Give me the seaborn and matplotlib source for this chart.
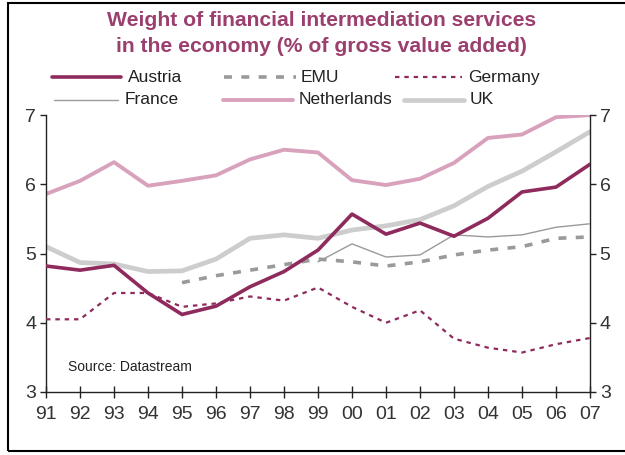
import matplotlib
matplotlib.use("Agg")
import matplotlib.pyplot as plt
import seaborn as sns
import numpy as np
import pandas as pd
from matplotlib.lines import Line2D
from matplotlib.patches import Rectangle

years = list(range(1991, 2008))
tick_labels = ["91", "92", "93", "94", "95", "96", "97", "98", "99",
               "00", "01", "02", "03", "04", "05", "06", "07"]

nan = np.nan
austria = [4.82, 4.76, 4.83, 4.43, 4.12, 4.24, 4.52, 4.74, 5.05,
           5.57, 5.28, 5.44, 5.25, 5.51, 5.89, 5.96, 6.29]
emu = [nan, nan, nan, nan, 4.58, 4.68, 4.76, 4.84, 4.92,
       4.88, 4.82, 4.88, 4.98, 5.05, 5.10, 5.22, 5.24]
germany = [4.05, 4.05, 4.43, 4.43, 4.23, 4.28, 4.38, 4.32, 4.51,
           4.23, 4.00, 4.18, 3.77, 3.64, 3.57, 3.69, 3.78]
france = [nan, nan, nan, nan, nan, nan, nan, nan, 4.88,
          5.14, 4.95, 4.98, 5.27, 5.24, 5.27, 5.38, 5.43]
netherlands = [5.86, 6.05, 6.32, 5.98, 6.05, 6.13, 6.36, 6.50, 6.46,
               6.06, 5.99, 6.08, 6.31, 6.67, 6.72, 6.97, 7.00]
uk = [5.10, 4.87, 4.85, 4.74, 4.75, 4.92, 5.22, 5.27, 5.22,
      5.34, 5.40, 5.49, 5.69, 5.97, 6.19, 6.47, 6.76]

MAROON = "#8E2A5C"
PINK = "#D9A2BC"
LIGHTGREY = "#CDCDCD"
GREY = "#9A9A9A"
TITLE_COLOR = "#9B3F6E"

sns.set_theme(style="white")
plt.rcParams["font.family"] = ["Liberation Sans", "DejaVu Sans"]

df = pd.DataFrame({"year": years, "Austria": austria, "EMU": emu,
                   "Germany": germany, "France": france,
                   "Netherlands": netherlands, "UK": uk})

W, H = 625, 455
fig = plt.figure(figsize=(W / 100, H / 100), dpi=100)
ax = fig.add_axes([0.0736, 0.1385, 0.8704, 0.6085])

styles = {
    "Netherlands": dict(color=PINK, lw=2.8, ls="-", z=2),
    "UK": dict(color=LIGHTGREY, lw=3.4, ls="-", z=2.5),
    "France": dict(color=GREY, lw=1.0, ls="-", z=3),
    "EMU": dict(color=GREY, lw=2.6, ls=(0, (2.2, 2.6)), z=3.5),
    "Germany": dict(color=MAROON, lw=1.6, ls=(0, (2.0, 2.2)), z=4),
    "Austria": dict(color=MAROON, lw=2.6, ls="-", z=5),
}

for name, st in styles.items():
    sub = df[["year", name]].dropna()
    sns.lineplot(data=sub, x="year", y=name, ax=ax, color=st["color"],
                 linewidth=st["lw"], linestyle=st["ls"], zorder=st["z"],
                 legend=False)

ax.set_xlim(1991, 2007)
ax.set_ylim(3, 7)
ax.set_xlabel("")
ax.set_ylabel("")
ax.set_xticks(years)
ax.set_xticklabels(tick_labels)
ax.set_yticks([3, 4, 5, 6, 7])

ax.spines["top"].set_visible(False)
for side in ["left", "right", "bottom"]:
    ax.spines[side].set_visible(True)
    ax.spines[side].set_color("#222222")
    ax.spines[side].set_linewidth(1.0)

ax.tick_params(axis="x", direction="inout", length=8, width=1.0,
               color="#222222", labelsize=14, labelcolor="#333333", pad=6,
               bottom=True)
ax.tick_params(axis="y", direction="out", length=4, width=1.0,
               color="#222222", labelsize=14, labelcolor="#333333", pad=3,
               left=True, right=True, labelleft=True, labelright=True)

ax.text(0.04, 0.09, "Source: Datastream", transform=ax.transAxes,
        fontsize=10, color="#222222", ha="left", va="center")

fig.text(0.514, 0.956, "Weight of financial intermediation services",
         ha="center", va="center", fontsize=15.2, fontweight="bold",
         color=TITLE_COLOR)
fig.text(0.514, 0.897, "in the economy (% of gross value added)",
         ha="center", va="center", fontsize=15.2, fontweight="bold",
         color=TITLE_COLOR)

# legend keys laid out in two rows: (name, handle x0, handle x1, text x, row y) in pixels
legend_layout = [
    ("Austria", 52, 121, 128, 77),
    ("EMU", 224, 296, 301, 77),
    ("Germany", 395, 462, 468, 77),
    ("France", 54, 118, 125, 100),
    ("Netherlands", 223, 293, 299, 100),
    ("UK", 404, 464, 470, 100),
]
for name, x0, x1, tx, y in legend_layout:
    st = styles[name]
    yf = 1 - y / H
    fig.add_artist(Line2D([x0 / W, x1 / W], [yf, yf], transform=fig.transFigure,
                          color=st["color"], lw=st["lw"], ls=st["ls"]))
    fig.text(tx / W, yf, name, ha="left", va="center", fontsize=12.5,
             color="#222222")

fig.patches.append(Rectangle((8 / W, 1 - 451 / H), 1.2, (451 - 3) / H,
                             transform=fig.transFigure, fill=False,
                             edgecolor="black", linewidth=1.5))

fig.savefig("out.png", dpi=100)
